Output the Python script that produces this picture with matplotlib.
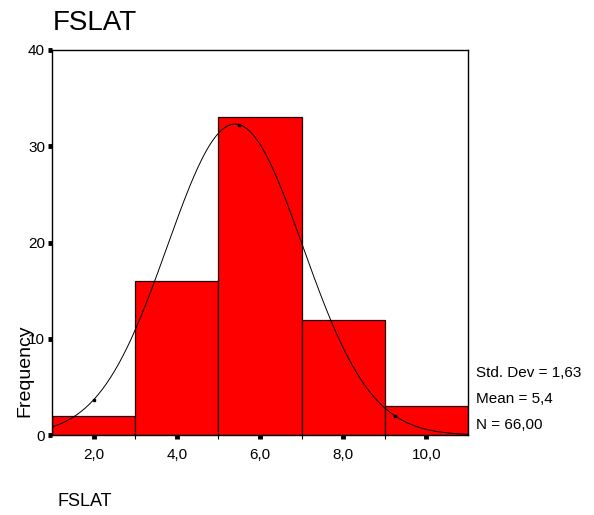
import matplotlib.pyplot as plt
import numpy as np

plt.rcParams['font.family'] = ['Liberation Sans', 'DejaVu Sans']

# histogram of FSLAT, bin width 2
bin_edges = [1, 3, 5, 7, 9, 11]
counts = [2, 16, 33, 12, 3]
x_ticks = [2, 4, 6, 8, 10]
x_tick_labels = ['2,0', '4,0', '6,0', '8,0', '10,0']
y_ticks = [0, 10, 20, 30, 40]

std_dev = 1.63
mean = 5.4
n = 66

fig = plt.figure(figsize=(5.94, 5.15), dpi=100)
ax = fig.add_axes([0.0875, 0.155, 0.7005, 0.748])

widths = np.diff(bin_edges)
ax.bar(bin_edges[:-1], counts, width=widths, align='edge',
       color='#ff0000', edgecolor='#200000', linewidth=0.9)

# normal curve scaled to counts
xs = np.linspace(bin_edges[0], bin_edges[-1], 300)
bw = widths[0]
ys = n * bw / (std_dev * np.sqrt(2 * np.pi)) * np.exp(-0.5 * ((xs - mean) / std_dev) ** 2)
ax.plot(xs, ys, color='black', linewidth=0.7)
mk = np.array([2.0, 5.5, 9.25])
mky = n * bw / (std_dev * np.sqrt(2 * np.pi)) * np.exp(-0.5 * ((mk - mean) / std_dev) ** 2)
ax.plot(mk, mky, 's', color='black', markersize=2)

ax.set_xlim(bin_edges[0], bin_edges[-1])
ax.set_ylim(0, 40)
ax.set_xticks(x_ticks)
ax.set_xticklabels(x_tick_labels)
ax.set_xticks([3, 5, 7, 9], minor=True)
ax.set_yticks(y_ticks)
ax.tick_params(which='major', direction='out', length=3, width=3.5, labelsize=11)
ax.tick_params(axis='x', which='major', pad=6)
ax.tick_params(axis='y', which='major', pad=2)
ax.tick_params(which='minor', direction='out', length=3, width=0.8)
for s in ax.spines.values():
    s.set_linewidth(1.0)

fig.text(0.042, 0.280, 'Frequency', fontsize=14, rotation=90, ha='center', va='center')

fig.text(0.089, 0.955, 'FSLAT', fontsize=20, va='center', ha='left')
fig.text(0.096, 0.027, 'FSLAT', fontsize=13, va='center', ha='left')

fig.text(0.801, 0.276, 'Std. Dev = 1,63', fontsize=11, va='center')
fig.text(0.801, 0.226, 'Mean = 5,4', fontsize=11, va='center')
fig.text(0.801, 0.175, 'N = 66,00', fontsize=11, va='center')

fig.savefig('out.png', dpi=100)
